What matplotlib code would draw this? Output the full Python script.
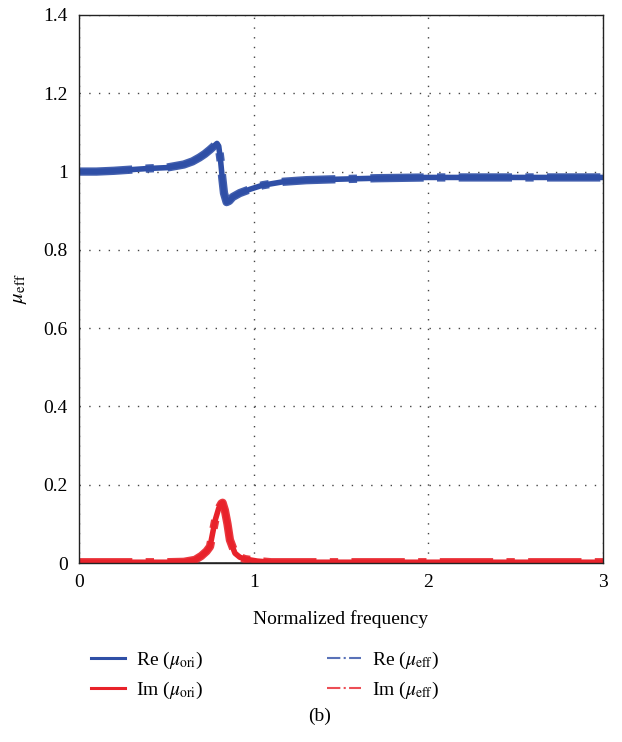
import matplotlib
matplotlib.use("Agg")
import matplotlib.pyplot as plt
from matplotlib.lines import Line2D

plt.rcParams['font.family'] = ['Liberation Serif', 'DejaVu Serif']
plt.rcParams['mathtext.fontset'] = 'stix'

# Real part of mu (normalized frequency -> value)
re_freq = [0.0, 0.1, 0.2, 0.3, 0.4, 0.5, 0.6, 0.65, 0.69, 0.72, 0.75, 0.77, 0.79, 0.80,
           0.81, 0.82, 0.83, 0.845, 0.86, 0.88, 0.92, 0.98, 1.05, 1.17, 1.3, 1.44, 1.7,
           2.0, 2.5, 3.0]
re_vals = [1.0, 1.0, 1.002, 1.005, 1.008, 1.01, 1.018, 1.026, 1.036, 1.045, 1.056, 1.064,
           1.072, 1.065, 1.03, 0.985, 0.945, 0.922, 0.925, 0.935, 0.945, 0.955, 0.965,
           0.974, 0.978, 0.98, 0.983, 0.985, 0.985, 0.985]

# Imaginary part of mu
im_freq = [0.0, 0.3, 0.5, 0.6, 0.664, 0.7, 0.73, 0.75, 0.78, 0.80, 0.815, 0.822, 0.835,
           0.85, 0.864, 0.88, 0.893, 0.92, 0.95, 0.98, 1.02, 1.1, 1.5, 2.0, 3.0]
im_vals = [0.002, 0.002, 0.002, 0.003, 0.008, 0.018, 0.03, 0.042, 0.11, 0.14, 0.152, 0.154,
           0.135, 0.1, 0.059, 0.04, 0.025, 0.015, 0.01, 0.008, 0.005, 0.002, 0.002, 0.002,
           0.002]

blue = '#2f4fa6'
red = '#e8222a'

fig = plt.figure(figsize=(6.22, 7.42), dpi=100)
ax = fig.add_axes([0.127, 0.2412, 0.8425, 0.7386])

ax.plot(re_freq, re_vals, color=blue, lw=4.0)
ax.plot(re_freq, re_vals, color=blue, lw=6.0, ls='-.', alpha=0.9)
ax.plot(im_freq, im_vals, color=red, lw=4.0)
ax.plot(im_freq, im_vals, color=red, lw=6.0, ls='-.', alpha=0.9)
ax.axhline(0, color='#333333', lw=1.2, zorder=0.5)

ax.set_xlim(0, 3)
ax.set_ylim(0, 1.4)
ax.set_xticks([0, 1, 2, 3])
ax.set_xticklabels(['0', '1', '2', '3'])
ax.set_yticks([0, 0.2, 0.4, 0.6, 0.8, 1.0, 1.2, 1.4])
ax.set_yticklabels(['0', '0.2', '0.4', '0.6', '0.8', '1', '1.2', '1.4'])
ax.tick_params(length=0, labelsize=14, pad=8)
ax.grid(True, color='#444444', ls=(0, (1, 6)), lw=1.0)
for s in ax.spines.values():
    s.set_color('#222222')
    s.set_linewidth(1.0)

ax.set_xlabel('Normalized frequency', fontsize=14, labelpad=14)
ax.set_ylabel(r'$\mu_{\mathrm{eff}}$', fontsize=15, labelpad=10)

handles = [
    Line2D([], [], color=blue, lw=2.2),
    Line2D([], [], color=red, lw=2.2),
    Line2D([], [], color=blue, lw=1.5, ls='-.', alpha=0.8),
    Line2D([], [], color=red, lw=1.5, ls='-.', alpha=0.8),
]
labels = [r'Re ($\mu_{\mathrm{ori}}$)', r'Im ($\mu_{\mathrm{ori}}$)',
          r'Re ($\mu_{\mathrm{eff}}$)', r'Im ($\mu_{\mathrm{eff}}$)']
fig.legend(handles, labels, ncol=2, frameon=False, fontsize=14,
           loc='center left', bbox_to_anchor=(0.118, 0.09), handlelength=1.75,
           columnspacing=6.4, handletextpad=0.55, labelspacing=0.45)

fig.text(0.513, 0.035, '(b)', ha='center', va='center', fontsize=14)

fig.savefig('out.png', dpi=100)
